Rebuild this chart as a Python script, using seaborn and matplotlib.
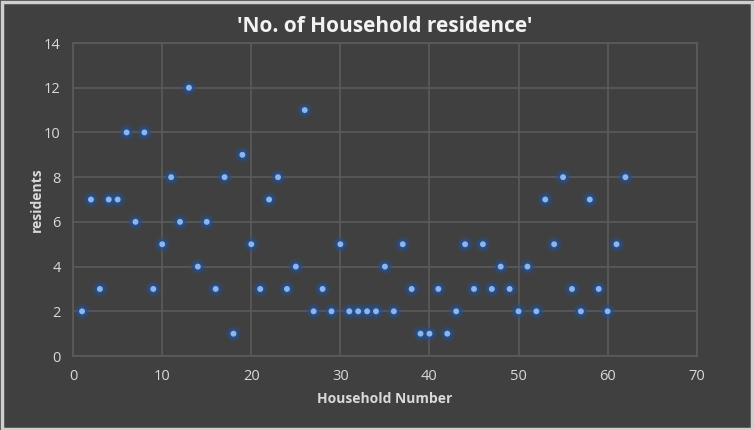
import matplotlib
matplotlib.use('Agg')
import matplotlib.pyplot as plt
import matplotlib.patches as mpatches
import seaborn as sns
import pandas as pd

# household number -> residents
household = list(range(1, 63))
residents = [2, 7, 3, 7, 7, 10, 6, 10, 3, 5,
             8, 6, 12, 4, 6, 3, 8, 1, 9, 5,
             3, 7, 8, 3, 4, 11, 2, 3, 2, 5,
             2, 2, 2, 2, 4, 2, 5, 3, 1, 1,
             3, 1, 2, 5, 3, 5, 3, 4, 3, 2,
             4, 2, 7, 5, 8, 3, 2, 7, 3, 2,
             5, 8]
xTicks = [0, 10, 20, 30, 40, 50, 60, 70]
yTicks = [0, 2, 4, 6, 8, 10, 12, 14]

bg = '#404040'
gridCol = '#5b5b5b'
textCol = '#d9d9d9'

sns.set_theme(style='dark')
plt.rcParams['font.family'] = ['Open Sans', 'DejaVu Sans']

df = pd.DataFrame({'Household Number': household, 'residents': residents})

fig = plt.figure(figsize=(7.54, 4.30), dpi=100, facecolor=bg)
ax = fig.add_axes([0.097, 0.172, 0.827, 0.728])
ax.set_facecolor(bg)

# soft glow then light centre
sns.scatterplot(data=df, x='Household Number', y='residents', ax=ax, s=120,
                color='#24508f', alpha=0.35, edgecolor='none', zorder=3)
sns.scatterplot(data=df, x='Household Number', y='residents', ax=ax, s=55,
                color='#24508f', edgecolor='none', alpha=0.75, zorder=4)
sns.scatterplot(data=df, x='Household Number', y='residents', ax=ax, s=18,
                color='#8fb4ea', edgecolor='none', zorder=5)

ax.set_xlim(0, 70)
ax.set_ylim(0, 14)
ax.set_xticks(xTicks)
ax.set_yticks(yTicks)
ax.grid(True, color=gridCol, linewidth=1.2)
ax.set_axisbelow(True)
for sp in ax.spines.values():
    sp.set_visible(True)
    sp.set_color(gridCol)
    sp.set_linewidth(1.2)
ax.tick_params(axis='both', colors=textCol, labelsize=10.5, length=0, pad=9)

ax.set_xlabel('Household Number', color=textCol, fontsize=10, fontweight='bold', labelpad=6)
ax.set_ylabel('residents', color=textCol, fontsize=10, fontweight='bold', labelpad=0)
ax.set_title("'No. of Household residence'", color='#f2f2f2', fontsize=15,
             fontweight='bold', pad=8)

# light frame round the picture
fig.patches.append(mpatches.Rectangle((0.002, 0.003), 0.996, 0.993, transform=fig.transFigure,
                                      fill=False, edgecolor='#cfcfcf', linewidth=2.5))

fig.savefig('out.png', dpi=100, facecolor=bg)
